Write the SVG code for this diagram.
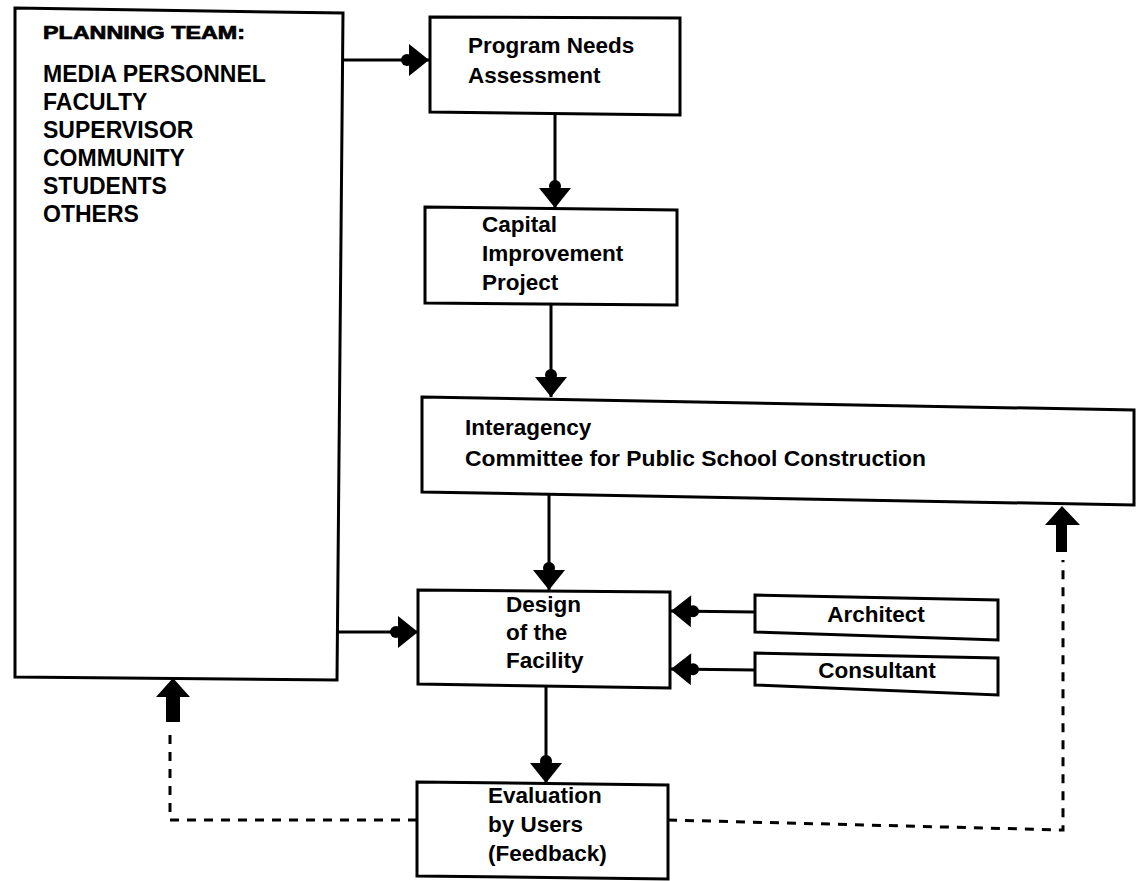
<svg xmlns="http://www.w3.org/2000/svg" width="1143" height="881" viewBox="0 0 1143 881">
<style>
.box{fill:#fff;stroke:#000;stroke-width:3;stroke-linejoin:miter}
.t{font-family:"Liberation Sans",Arial,sans-serif;font-size:22.5px;font-weight:bold;fill:#000}
.list{font-size:23px}
.title{font-family:"Liberation Sans",Arial,sans-serif;font-size:18px;font-weight:900;fill:#000;stroke:#000;stroke-width:0.7}
.ln{fill:none;stroke:#000;stroke-width:3}
.dash{fill:none;stroke:#000;stroke-width:3;stroke-dasharray:9 8}
.blk{fill:#000;stroke:none}
</style>
<defs>
<marker id="head" markerUnits="userSpaceOnUse" viewBox="0 0 34 34" markerWidth="34" markerHeight="34" refX="32" refY="17" orient="auto">
<path d="M12,1 L32,17 L12,33 Z" fill="#000"/>
<circle cx="10" cy="17" r="6" fill="#000"/>
</marker>
</defs>
<rect width="1143" height="881" fill="#fff"/>

<g id="planning-team">
<polygon class="box" points="15,8 343,13 337,680 15,677"/>
<text class="title" x="43" y="39" textLength="202" lengthAdjust="spacingAndGlyphs">PLANNING TEAM:</text>
<text class="t list" x="43" y="82">MEDIA PERSONNEL</text>
<text class="t list" x="43" y="110">FACULTY</text>
<text class="t list" x="43" y="138">SUPERVISOR</text>
<text class="t list" x="43" y="166">COMMUNITY</text>
<text class="t list" x="43" y="194">STUDENTS</text>
<text class="t list" x="43" y="222">OTHERS</text>
</g>

<g id="program-needs">
<polygon class="box" points="430,17 680,18 680,115 430,112"/>
<text class="t" x="468" y="53">Program Needs</text>
<text class="t" x="468" y="83">Assessment</text>
</g>

<g id="capital-improvement">
<polygon class="box" points="425,207 677,210 677,305 425,303"/>
<text class="t" x="482" y="232">Capital</text>
<text class="t" x="482" y="261">Improvement</text>
<text class="t" x="482" y="290">Project</text>
</g>

<g id="interagency">
<polygon class="box" points="422,397 1134,410 1134,505 422,492"/>
<text class="t" x="465" y="435">Interagency</text>
<text class="t" x="465" y="466" textLength="461" lengthAdjust="spacingAndGlyphs">Committee for Public School Construction</text>
</g>

<g id="design">
<polygon class="box" points="418,590 670,592 670,688 418,684"/>
<text class="t" x="506" y="612">Design</text>
<text class="t" x="506" y="640">of the</text>
<text class="t" x="506" y="668">Facility</text>
</g>

<g id="architect">
<polygon class="box" points="755,595 998,600 998,640 755,632"/>
<text class="t" x="876" y="622" text-anchor="middle">Architect</text>
</g>

<g id="consultant">
<polygon class="box" points="755,653 998,658 998,695 755,685"/>
<text class="t" x="877" y="678" text-anchor="middle">Consultant</text>
</g>

<g id="evaluation">
<polygon class="box" points="417,782 668,785 668,879 417,876"/>
<text class="t" x="488" y="803">Evaluation</text>
<text class="t" x="488" y="832">by Users</text>
<text class="t" x="488" y="861">(Feedback)</text>
</g>

<g id="connectors">
<path class="ln" d="M343,60 L429,60" marker-end="url(#head)"/>
<path class="ln" d="M555,114 L555,208" marker-end="url(#head)"/>
<path class="ln" d="M551,304 L551,397" marker-end="url(#head)"/>
<path class="ln" d="M549,494 L549,590" marker-end="url(#head)"/>
<path class="ln" d="M338,632 L418,632" marker-end="url(#head)"/>
<path class="ln" d="M755,612 L671,611" marker-end="url(#head)"/>
<path class="ln" d="M755,670 L671,669" marker-end="url(#head)"/>
<path class="ln" d="M546,687 L546,783" marker-end="url(#head)"/>
<path class="dash" d="M417,820 L170,820 L170,730"/>
<polygon class="blk" points="173,678 190,697 180,697 180,722 166,722 166,697 156,697"/>
<path class="dash" d="M668,820 L1063,830 L1063,560"/>
<polygon class="blk" points="1062,506 1080,525 1067,525 1067,552 1056,552 1056,525 1045,525"/>
</g>
</svg>
